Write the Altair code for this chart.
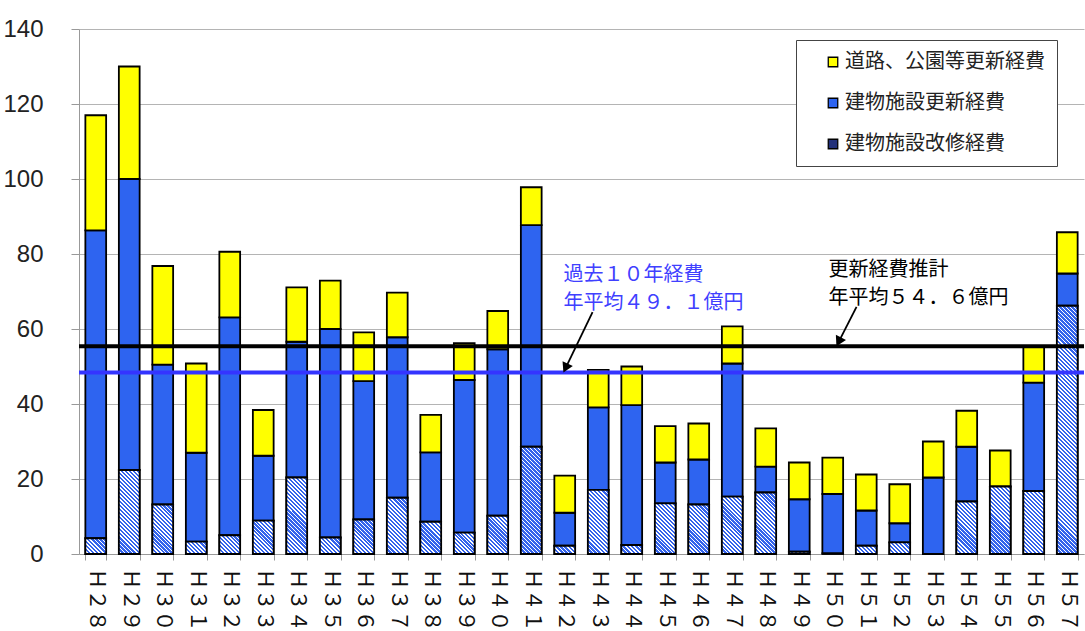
import math
import altair as alt
import pandas as pd

# ---------------- data ----------------
years = ["Ｈ２８", "Ｈ２９", "Ｈ３０", "Ｈ３１", "Ｈ３２", "Ｈ３３", "Ｈ３４", "Ｈ３５", "Ｈ３６", "Ｈ３７",
         "Ｈ３８", "Ｈ３９", "Ｈ４０", "Ｈ４１", "Ｈ４２", "Ｈ４３", "Ｈ４４", "Ｈ４５", "Ｈ４６", "Ｈ４７",
         "Ｈ４８", "Ｈ４９", "Ｈ５０", "Ｈ５１", "Ｈ５２", "Ｈ５３", "Ｈ５４", "Ｈ５５", "Ｈ５６", "Ｈ５７"]

# 建物施設改修経費 (hatched, bottom)
renovation = [4.2, 22.4, 13.2, 3.3, 5.0, 8.9, 20.4, 4.4, 9.2, 15.0,
              8.6, 5.7, 10.2, 28.6, 2.2, 17.1, 2.4, 13.5, 13.2, 15.3,
              16.4, 0.6, 0.2, 2.2, 3.1, 0.0, 14.0, 18.0, 16.8, 66.2]
# 建物施設更新経費 (blue, middle)
building = [82.1, 77.6, 37.3, 23.7, 58.1, 17.3, 36.2, 55.6, 36.9, 42.8,
            18.5, 40.7, 44.4, 59.1, 8.8, 22.0, 37.3, 10.9, 12.0, 35.5,
            6.9, 14.0, 15.8, 9.4, 5.1, 20.4, 14.6, 0.0, 28.9, 8.6]
# 道路、公園等更新経費 (yellow, top)
roads = [30.7, 30.0, 26.3, 23.8, 17.5, 12.2, 14.5, 12.9, 13.0, 11.9,
         10.0, 9.8, 10.2, 10.1, 9.9, 10.0, 10.3, 9.7, 9.6, 9.9,
         10.2, 9.8, 9.7, 9.6, 10.4, 9.6, 9.6, 9.6, 9.5, 11.0]

S_ROAD = "道路、公園等更新経費"
S_BLD = "建物施設更新経費"
S_REN = "建物施設改修経費"
series_names = [S_ROAD, S_BLD, S_REN]

# average lines (as drawn)
avg_estimate = [55.4]   # 更新経費推計 年平均
avg_past = [48.4]       # 過去10年経費 年平均

# annotations: text lines and arrows (x in category-index units, y in 億円)
blue_text = ["過去１０年経費", "年平均４９．１億円"]
blue_text_x = [14.46, 14.46]
blue_text_y = [74.4, 67.0]
black_text = ["更新経費推計", "年平均５４．６億円"]
black_text_x = [22.37, 22.37]
black_text_y = [75.7, 68.2]
arrow_x1 = [15.33, 23.21]
arrow_y1 = [64.5, 65.9]
arrow_x2 = [14.46, 22.61]
arrow_y2 = [48.4, 55.4]

# ---------------- layout / style ----------------
W, H = 1005, 525
Y_MAX = 140
N_CAT = len(years)
P_INNER = 0.38
SX = W / N_CAT          # px per category index
SY = H / Y_MAX          # px per 億円
BAR_W = SX * (1 - P_INNER)

YELLOW = "#ffff00"
BLUE = "#2e64f0"
NAVY = "#22307a"
HATCH_BLUE = "#3464ec"
LINE_BLUE = "#3434ff"
TEXT_BLUE = "#4040ff"
JP = "Noto Sans CJK JP"
STROKE_W = 1.8

rows = []
for i, yr in enumerate(years):
    rows.append({"year": yr, "series": S_REN, "value": renovation[i], "rank": 0})
    rows.append({"year": yr, "series": S_BLD, "value": building[i], "rank": 1})
    rows.append({"year": yr, "series": S_ROAD, "value": roads[i], "rank": 2})
df = pd.DataFrame(rows)

x_axis = alt.Axis(title=None, labelAngle=90, labelFont=JP, labelFontSize=21, labelColor="#111",
                  labelPadding=8, tickBand="extent", tickSize=6, tickColor="#999",
                  domainColor="#999", grid=False)
x_scale = alt.Scale(domain=years, paddingInner=P_INNER, paddingOuter=P_INNER / 2)
y_axis = alt.Axis(title=None, values=list(range(0, 141, 20)), labelFont="Liberation Sans",
                  labelFontSize=24, labelColor="#222", labelPadding=28, tickSize=8,
                  tickColor="#999", domainColor="#999", grid=True, gridColor="#b4b4b4")
y_scale = alt.Scale(domain=[0, Y_MAX], nice=False)

legend = alt.Legend(title=None, orient="none", legendX=717, legendY=11, fillColor="white",
                    strokeColor="#444", padding=12, rowPadding=21, labelFont=JP,
                    labelFontSize=20, labelColor="#222", labelLimit=400, symbolType="square",
                    symbolSize=90, symbolStrokeColor="black", symbolStrokeWidth=1.3,
                    symbolOffset=15, labelOffset=2)

base = alt.Chart(df).mark_bar(stroke="black", strokeWidth=STROKE_W).encode(
    x=alt.X("year:N", sort=years, scale=x_scale, axis=x_axis),
    y=alt.Y("value:Q", stack="zero", scale=y_scale, axis=y_axis),
    color=alt.Color("series:N", scale=alt.Scale(domain=series_names, range=[YELLOW, BLUE, NAVY]),
                    legend=legend),
    order=alt.Order("rank:Q", sort="ascending"),
)


def hatch_gradient(w, h, period=4.0, blue_share=0.58):
    s = (w + h) / (w * w + h * h)
    gx2 = w * s
    gy2 = 1 - h * s
    n = max(1, int(round((w + h) / period)))
    stops = []
    for k in range(n):
        a, m, b = k / n, (k + blue_share) / n, (k + 1) / n
        stops += [{"offset": round(a, 5), "color": HATCH_BLUE},
                  {"offset": round(m, 5), "color": HATCH_BLUE},
                  {"offset": round(m, 5), "color": "white"},
                  {"offset": round(b, 5), "color": "white"}]
    return {"gradient": "linear", "stops": stops, "x1": 0, "y1": 1,
            "x2": round(gx2, 5), "y2": round(gy2, 5)}


hatch_layers = []
for yr, v in zip(years, renovation):
    if v <= 0.3:
        continue
    grad = hatch_gradient(BAR_W, v * SY)
    hatch_layers.append(
        alt.Chart(df)
        .transform_filter((alt.datum.year == yr) & (alt.datum.series == S_REN))
        .mark_bar(fill=grad, stroke="black", strokeWidth=STROKE_W)
        .encode(
            x=alt.X("year:N", sort=years, scale=x_scale, axis=x_axis),
            y=alt.Y("value:Q", stack=None, scale=y_scale, axis=y_axis),
        )
    )

bars = alt.layer(base, *hatch_layers)

# ---------------- annotation group (own index scale) ----------------
ax_scale = alt.Scale(domain=[0, N_CAT], nice=False, zero=False)
ay_scale = alt.Scale(domain=[0, Y_MAX], nice=False)

line_est = alt.Chart(pd.DataFrame({"v": avg_estimate})).mark_rule(
    color="black", strokeWidth=4).encode(y=alt.Y("v:Q", scale=ay_scale, axis=None))
line_past = alt.Chart(pd.DataFrame({"v": avg_past})).mark_rule(
    color=LINE_BLUE, strokeWidth=4).encode(y=alt.Y("v:Q", scale=ay_scale, axis=None))

txt_blue = alt.Chart(pd.DataFrame({"t": blue_text, "ax": blue_text_x, "ay": blue_text_y})).mark_text(
    align="left", baseline="middle", font=JP, fontSize=20, color=TEXT_BLUE).encode(
    x=alt.X("ax:Q", scale=ax_scale, axis=None), y=alt.Y("ay:Q", scale=ay_scale, axis=None), text="t:N")
txt_black = alt.Chart(pd.DataFrame({"t": black_text, "ax": black_text_x, "ay": black_text_y})).mark_text(
    align="left", baseline="middle", font=JP, fontSize=20, color="black").encode(
    x=alt.X("ax:Q", scale=ax_scale, axis=None), y=alt.Y("ay:Q", scale=ay_scale, axis=None), text="t:N")

HEAD_SIZE = 130
head_back = math.sqrt(HEAD_SIZE) / 2 * math.sqrt(3) / 2
hx, hy, hang = [], [], []
for x1, y1, x2, y2 in zip(arrow_x1, arrow_y1, arrow_x2, arrow_y2):
    dx = (x2 - x1) * SX
    dy = -(y2 - y1) * SY
    L = math.hypot(dx, dy)
    ux, uy = dx / L, dy / L
    hx.append(x2 - head_back * ux / SX)
    hy.append(y2 + head_back * uy / SY)
    hang.append(math.degrees(math.atan2(ux, -uy)) % 360)

arrows_df = pd.DataFrame({"x1": arrow_x1, "y1": arrow_y1, "x2": arrow_x2, "y2": arrow_y2,
                          "hx": hx, "hy": hy, "ang": hang})
shafts = alt.Chart(arrows_df).mark_rule(color="black", strokeWidth=1.8).encode(
    x=alt.X("x1:Q", scale=ax_scale, axis=None), y=alt.Y("y1:Q", scale=ay_scale, axis=None),
    x2="hx:Q", y2="hy:Q")
heads = alt.Chart(arrows_df).mark_point(shape="triangle-up", filled=True, color="black",
                                        size=HEAD_SIZE, opacity=1).encode(
    x=alt.X("hx:Q", scale=ax_scale, axis=None), y=alt.Y("hy:Q", scale=ay_scale, axis=None),
    angle=alt.Angle("ang:Q", scale=None))

ann = alt.layer(line_est, line_past, txt_blue, txt_black, shafts, heads)

chart = (
    alt.layer(bars, ann)
    .resolve_scale(x="independent", y="independent")
    .properties(width=W, height=H, padding={"left": 79, "top": 29, "right": 1, "bottom": 77},
                autosize=alt.AutoSizeParams(type="none"))
    .configure_view(stroke=None)
)

chart.save("out.html", embed_options={"renderer": "svg", "actions": False})
